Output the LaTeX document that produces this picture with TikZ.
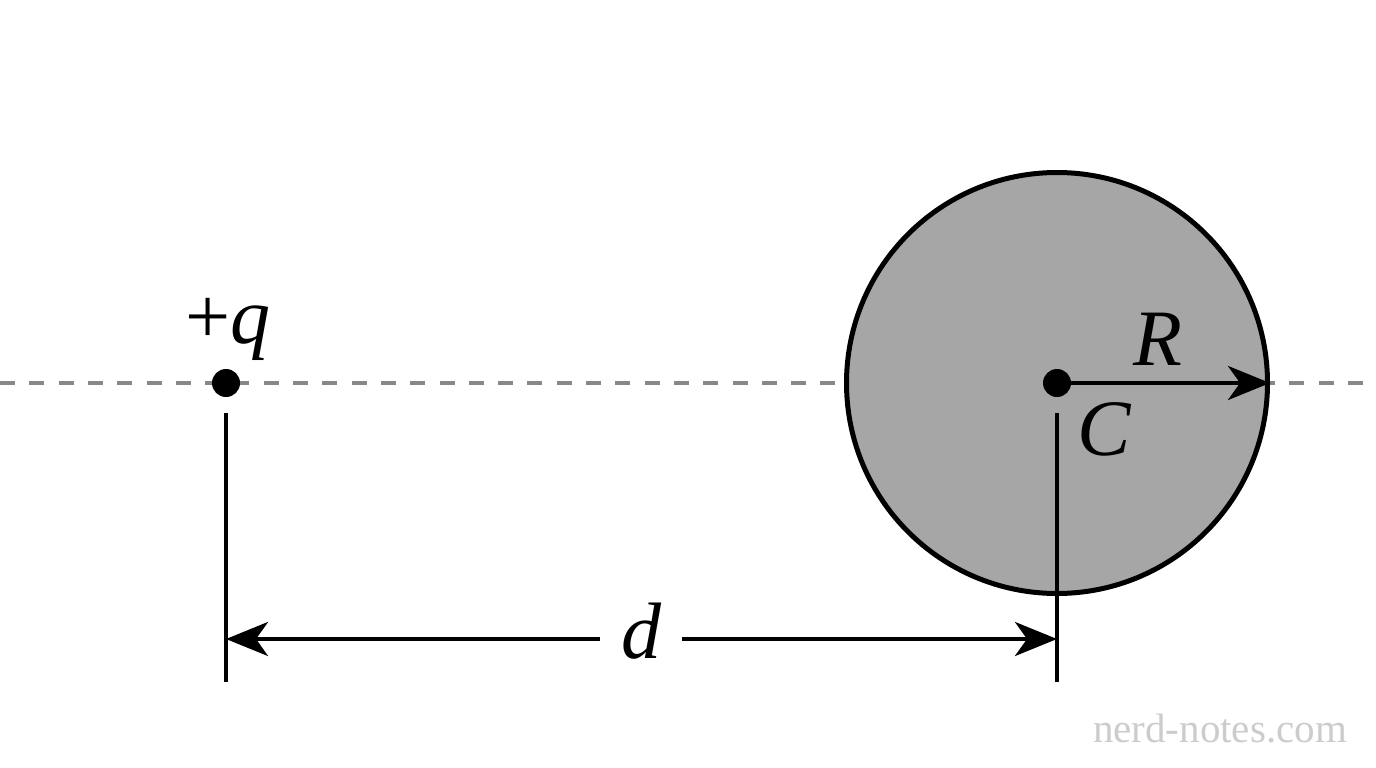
\documentclass[tikz,border=0pt]{standalone}
\usepackage{fontspec}
\setmainfont{Liberation Serif}
\usetikzlibrary{arrows.meta}
\definecolor{spheregray}{HTML}{A6A6A6}
\definecolor{dashgray}{HTML}{888888}
\definecolor{wmgray}{HTML}{CCCCCC}
\tikzset{
  dimline/.style={line width=4pt, black},
  bigtip/.style={-{Stealth[length=42pt,width=34pt,inset=12pt]}},
  axisline/.style={line width=3.5pt, dashgray, dash pattern=on 15pt off 14.3pt},
  dotnode/.style={circle, fill=black, inner sep=0pt, minimum size=28pt},
  lbl/.style={font=\fontsize{80}{84}\selectfont\itshape, inner sep=0pt, anchor=base},
}
\begin{document}
\begin{tikzpicture}[x=1pt,y=-1pt]
\useasboundingbox[fill=white] (0,0) rectangle (1376,768);
% axis
\coordinate (axL) at (0,383);
\coordinate (axR) at (1376,383);
\draw[axisline] (axL) -- (axR);
% sphere
\node[circle, draw=black, line width=5pt, fill=spheregray, inner sep=0pt, minimum size=421pt] (sphere) at (1057,383) {};
% dots
\node[dotnode] (q) at (226,383) {};
\node[dotnode] (c) at (1057,383) {};
% radius arrow
\draw[dimline, bigtip] (c.center) -- (sphere.east);
% vertical extension lines
\coordinate (qt) at (226,413);
\coordinate (qb) at (226,682);
\coordinate (ct) at (1057,413);
\coordinate (cb) at (1057,682);
\draw[dimline] (qt) -- (qb);
\draw[dimline] (ct) -- (cb);
% dimension arrow
\coordinate (dl) at (226,639);
\coordinate (dr) at (1057,639);
\coordinate (dgl) at (600,639);
\coordinate (dgr) at (682,639);
\draw[dimline, bigtip] (dgl) -- (dl);
\draw[dimline, bigtip] (dgr) -- (dr);
% labels
\node[lbl] (lq) at (228,343) {\upshape+\itshape q};
\node[lbl] (lR) at (1158,365) {R};
\node[lbl] (lC) at (1104,455) {C};
\node[lbl] (ld) at (641,658) {d};
\node[font=\fontsize{41}{44}\selectfont, text=wmgray, inner sep=0pt, anchor=base] (wm) at (1220,742) {nerd-notes.com};
\end{tikzpicture}
\end{document}
